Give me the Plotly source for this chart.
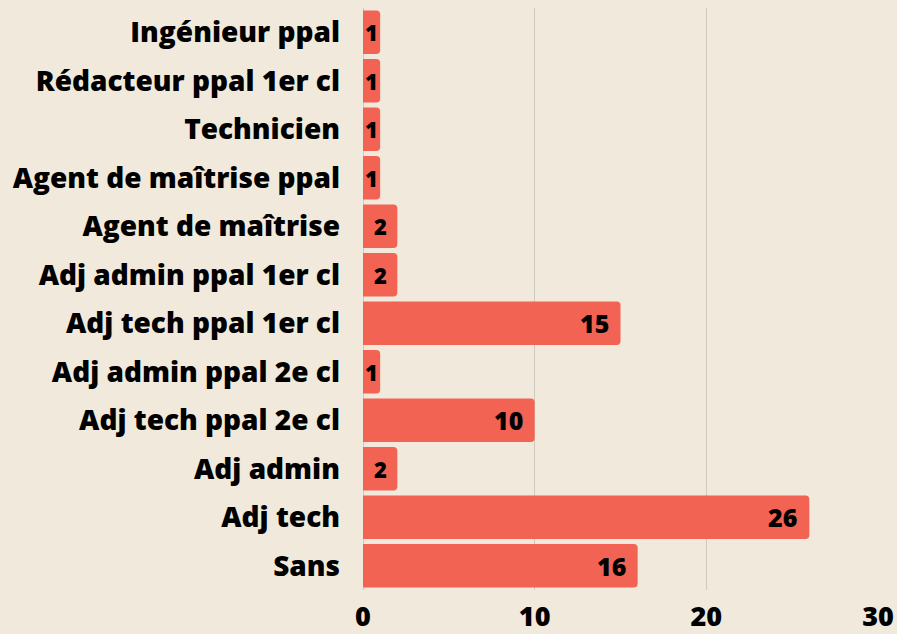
import plotly.graph_objects as go

# Headcount by grade (top to bottom as listed)
grades = [
    "Ingénieur ppal",
    "Rédacteur ppal 1er cl",
    "Technicien",
    "Agent de maîtrise ppal",
    "Agent de maîtrise",
    "Adj admin ppal 1er cl",
    "Adj tech ppal 1er cl",
    "Adj admin ppal 2e cl",
    "Adj tech ppal 2e cl",
    "Adj admin",
    "Adj tech",
    "Sans",
]
counts = [1, 1, 1, 1, 2, 2, 15, 1, 10, 2, 26, 16]
x_ticks = [0, 10, 20, 30]

BG = "#F0E9DC"
BAR = "#F26354"
FONT = "Open Sans"
X_MAX = 30
PLOT_W = 897 - 363 - 19  # plot area width in px

fig = go.Figure(
    go.Bar(
        y=grades,
        x=counts,
        orientation="h",
        marker=dict(color=BAR, line=dict(width=0), cornerradius=4),
        hoverinfo="x+y",
    )
)

# value labels: right-aligned with padding inside wide bars, centred in narrow ones
for g, v in zip(grades, counts):
    bar_px = v / X_MAX * PLOT_W
    text_px = 15 * len(str(v))
    if bar_px > text_px + 24:
        fig.add_annotation(x=v, y=g, text=str(v), xanchor="right", xshift=-10,
                           showarrow=False,
                           font=dict(family=FONT, size=25, color="#000000", weight=800))
    else:
        fig.add_annotation(x=v / 2, y=g, text=str(v), xanchor="center",
                           showarrow=False,
                           font=dict(family=FONT, size=22, color="#000000", weight=800))

fig.update_layout(
    width=897,
    height=634,
    paper_bgcolor=BG,
    plot_bgcolor=BG,
    margin=dict(l=363, r=19, t=8, b=44),
    bargap=0.1,
    showlegend=False,
)

fig.update_yaxes(
    categoryorder="array",
    categoryarray=grades[::-1],
    showgrid=False,
    ticks="",
    ticklabelstandoff=22,
    tickfont=dict(family=FONT, size=28, color="#000000", weight=800),
    showline=False,
    automargin=False,
)

fig.update_xaxes(
    range=[0, X_MAX],
    tickvals=x_ticks,
    ticktext=[str(v) for v in x_ticks],
    showgrid=True,
    gridcolor="#CFCABC",
    gridwidth=1,
    zeroline=True,
    zerolinecolor="#CFCABC",
    zerolinewidth=1,
    ticks="",
    ticklabelstandoff=8,
    tickfont=dict(family=FONT, size=27, color="#000000", weight=800),
    automargin=False,
)

fig.write_html("out.html")
